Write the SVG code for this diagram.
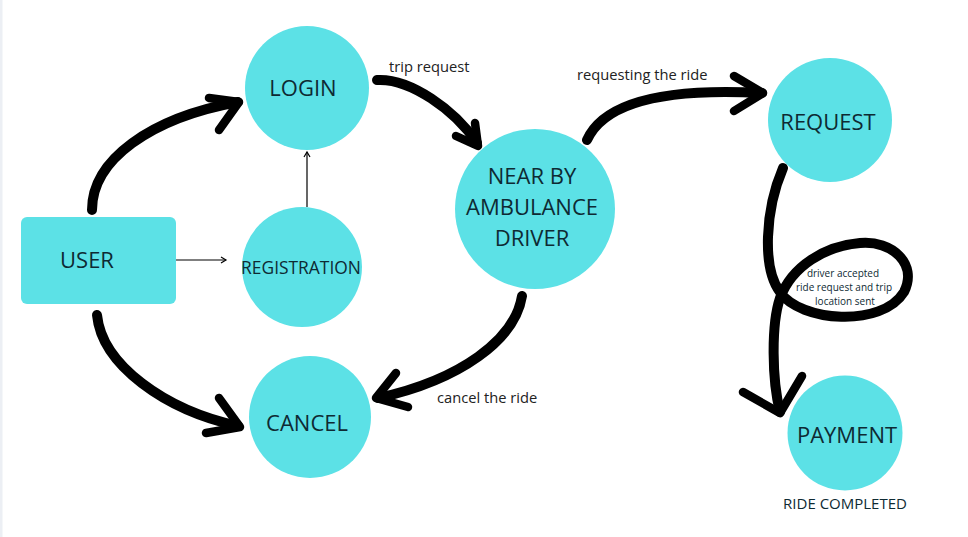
<svg xmlns="http://www.w3.org/2000/svg" width="968" height="537" viewBox="0 0 968 537">
<style>
.node{fill:#5ce1e6}
.lbl{font-family:"Open Sans","DejaVu Sans",sans-serif;fill:#0e2a33;text-anchor:middle}
.big{font-size:22px}
.cap{font-family:"Open Sans","DejaVu Sans",sans-serif;fill:#222;font-size:14.7px}
.brush{fill:none;stroke:#000;stroke-width:10;stroke-linecap:round;stroke-linejoin:round}
.head{fill:none;stroke:#000;stroke-width:8.5;stroke-linecap:round;stroke-linejoin:round}
.thin{fill:none;stroke:#000;stroke-width:1.2}
</style>
<defs>
<marker id="sm" markerWidth="8" markerHeight="8" refX="6" refY="4" orient="auto" markerUnits="userSpaceOnUse">
<path d="M1,1 L6,4 L1,7" fill="none" stroke="#000" stroke-width="1.2"/>
</marker>
</defs>
<rect x="0" y="0" width="968" height="537" fill="#fff"/>
<rect x="0" y="0" width="2.5" height="537" fill="#eceff4"/>

<g id="user"><rect class="node" x="21" y="217" width="155" height="87" rx="6"/><text class="lbl big" x="87" y="268">USER</text></g>
<g id="login"><circle class="node" cx="307" cy="88" r="62"/><text class="lbl big" x="303" y="96">LOGIN</text></g>
<g id="registration"><circle class="node" cx="302" cy="267" r="60"/><text class="lbl" x="301" y="274" font-size="17.4">REGISTRATION</text></g>
<g id="cancel"><circle class="node" cx="310" cy="417" r="61"/><text class="lbl big" x="307" y="431">CANCEL</text></g>
<g id="nearby"><circle class="node" cx="535" cy="209" r="80"/>
<text class="lbl big" x="532" y="184">NEAR BY</text><text class="lbl big" x="532" y="215">AMBULANCE</text><text class="lbl big" x="532" y="246">DRIVER</text></g>
<g id="request"><circle class="node" cx="830" cy="120" r="62"/><text class="lbl big" x="828" y="130">REQUEST</text></g>
<g id="payment"><circle class="node" cx="845" cy="433" r="57.5"/><text class="lbl big" x="847" y="443">PAYMENT</text>
<text class="lbl" x="845" y="509" font-size="15" fill="#111">RIDE COMPLETED</text></g>

<g id="connectors">
<!-- USER -> LOGIN -->
<path class="brush" d="M92,210 C92,160 150,118 238,102"/>
<path class="head" d="M209,98 L239,102 L219,130"/>
<!-- USER -> CANCEL -->
<path class="brush" d="M97,315 C102,365 165,410 238,426"/>
<path class="head" d="M219,398 L240,427 L206,433"/>
<!-- USER -> REGISTRATION -->
<line class="thin" x1="176" y1="260" x2="226" y2="260" marker-end="url(#sm)"/>
<!-- REGISTRATION -> LOGIN -->
<line class="thin" x1="307" y1="207" x2="307" y2="152" marker-end="url(#sm)"/>
<!-- LOGIN -> NEAR BY -->
<path class="brush" d="M377,80 C410,78 455,110 477,143"/>
<path class="head" d="M456,136 L478,146 L475,123"/>
<!-- NEAR BY -> REQUEST -->
<path class="brush" d="M587,140 C605,100 670,88 762,93"/>
<path class="head" d="M734,76 L763,93 L734,111"/>
<!-- NEAR BY -> CANCEL -->
<path class="brush" d="M522,296 C515,340 460,380 378,398"/>
<path class="head" d="M396,373 L376,398 L408,407"/>
<!-- REQUEST -> PAYMENT loop -->
<path class="brush" stroke-width="8.5" d="M783,168 C765,210 762,268 780,292 C800,322 882,328 904,292 C918,264 892,240 860,243 C825,246 792,266 780,298 C771,325 772,380 780,412"/>
<path class="head" d="M743,392 L780,413 L802,376"/>
</g>

<g id="labels">
<text class="cap" x="389" y="72">trip request</text>
<text class="cap" x="577" y="80">requesting the ride</text>
<text class="cap" x="437" y="403">cancel the ride</text>
<text class="lbl" font-size="10" fill="#222" x="843" y="277">driver accepted</text>
<text class="lbl" font-size="10" fill="#222" x="844" y="291">ride request and trip</text>
<text class="lbl" font-size="10" fill="#222" x="845" y="305">location sent</text>
</g>
</svg>
